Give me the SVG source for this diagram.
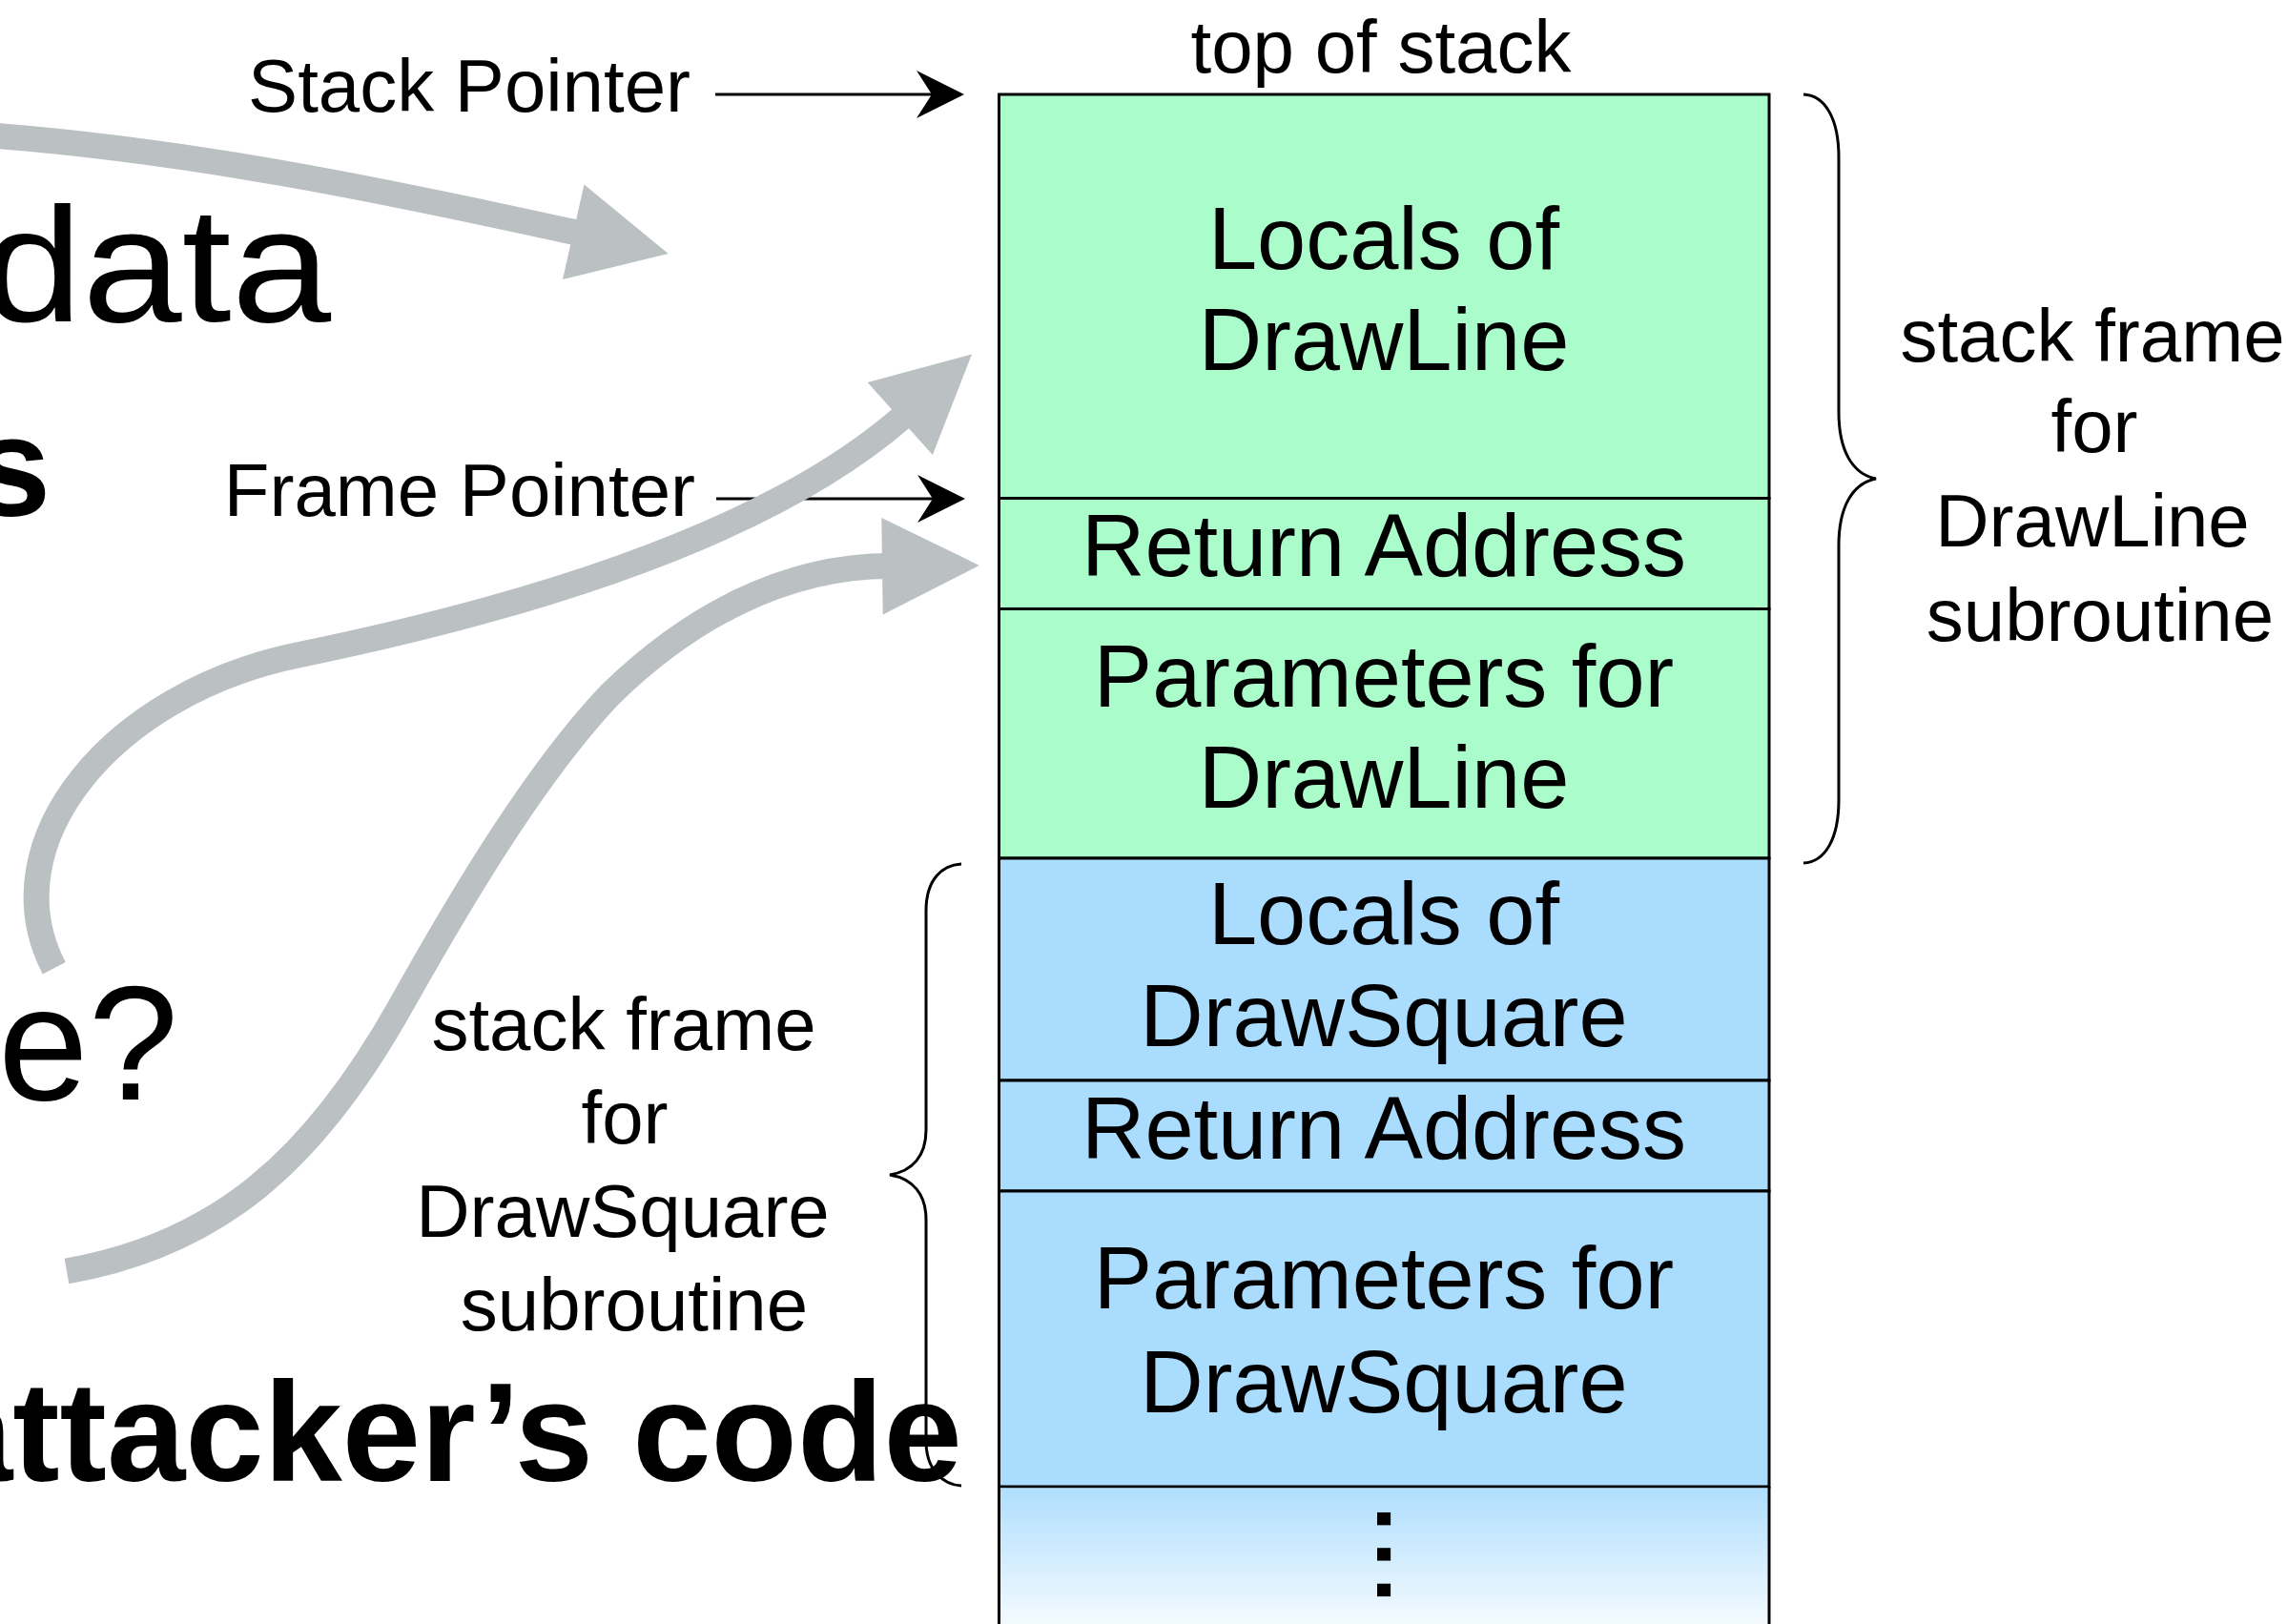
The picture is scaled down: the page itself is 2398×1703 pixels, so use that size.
<svg xmlns="http://www.w3.org/2000/svg" width="2398" height="1703" viewBox="0 0 2398 1703">
<style>
text { font-family: "Liberation Sans", Arial, sans-serif; fill: #000; }
.cell-text { font-size: 92px; text-anchor: middle; }
.side { font-size: 78px; text-anchor: middle; }
.ptr { font-size: 78px; text-anchor: end; }
.bg-reg { font-size: 170px; }
.bg-bold { font-size: 148px; font-weight: bold; }
.cell { stroke: #000; stroke-width: 3; }
.green { fill: #aafdcb; }
.blue { fill: #aadcfd; }
.edge { stroke: #000; stroke-width: 3; }
.brace { fill: none; stroke: #000; stroke-width: 3; }
.ptr-line { stroke: #000; stroke-width: 3; marker-end: url(#ptrhead); }
.gshaft { fill: none; stroke: #bbc0c2; stroke-width: 27; }
.ghead { fill: #bbc0c2; }
.dots { font-size: 95px; font-weight: bold; letter-spacing: 11px; }
</style>
<defs>
<marker id="ptrhead" viewBox="0 0 50 50" refX="16" refY="25" markerWidth="50" markerHeight="50" markerUnits="userSpaceOnUse" orient="auto">
<path d="M0,0 L50,25 L0,50 L16,25 Z" fill="#000"/>
</marker>
<linearGradient id="fade" x1="0" y1="1559" x2="0" y2="1728" gradientUnits="userSpaceOnUse">
<stop offset="0" stop-color="#afdefd"/>
<stop offset="1" stop-color="#ffffff"/>
</linearGradient>
</defs>
<rect width="2398" height="1703" fill="#fff"/>

<g id="background-text">
<text class="bg-reg" x="-18" y="337" textLength="365" lengthAdjust="spacingAndGlyphs">data</text>
<text class="bg-bold" x="-29" y="541">s</text>
<text class="bg-reg" x="-2" y="1153">e?</text>
<text class="bg-bold" x="-69" y="1553">attacker’s code</text>
</g>

<g id="top-of-stack-label"><text class="side" x="1448" y="76">top of stack</text></g>

<g id="drawline-locals">
<rect class="cell green" x="1047.5" y="99" width="807.5" height="423.5"/>
<text class="cell-text" x="1451" y="282">Locals of</text>
<text class="cell-text" x="1451" y="388">DrawLine</text>
</g>
<g id="drawline-return">
<rect class="cell green" x="1047.5" y="522.5" width="807.5" height="116"/>
<text class="cell-text" x="1451" y="604">Return Address</text>
</g>
<g id="drawline-params">
<rect class="cell green" x="1047.5" y="638.5" width="807.5" height="261.5"/>
<text class="cell-text" x="1451" y="741">Parameters for</text>
<text class="cell-text" x="1451" y="847">DrawLine</text>
</g>
<g id="drawsquare-locals">
<rect class="cell blue" x="1047.5" y="900" width="807.5" height="233"/>
<text class="cell-text" x="1451" y="990">Locals of</text>
<text class="cell-text" x="1451" y="1097">DrawSquare</text>
</g>
<g id="drawsquare-return">
<rect class="cell blue" x="1047.5" y="1133" width="807.5" height="116"/>
<text class="cell-text" x="1451" y="1215">Return Address</text>
</g>
<g id="drawsquare-params">
<rect class="cell blue" x="1047.5" y="1249" width="807.5" height="310"/>
<text class="cell-text" x="1451" y="1372">Parameters for</text>
<text class="cell-text" x="1451" y="1481">DrawSquare</text>
</g>
<g id="stack-continues">
<rect x="1047.5" y="1560.5" width="807.5" height="150" fill="url(#fade)"/>
<line class="edge" x1="1047.5" y1="1559" x2="1047.5" y2="1710"/>
<line class="edge" x1="1855" y1="1559" x2="1855" y2="1710"/>
<text class="dots" transform="translate(1443.5,1579.4) rotate(90)" x="0" y="0">...</text>
</g>

<g id="drawline-frame-brace">
<path class="brace" d="M1891,99 C1914,100 1928,125 1928,165 L1928,432 C1928,472 1942,497 1967,502 C1942,507 1928,532 1928,572 L1928,839 C1928,879 1914,904 1891,905"/>
<text class="side" x="2194" y="379">stack frame</text>
<text class="side" x="2196" y="474">for</text>
<text class="side" x="2194" y="573">DrawLine</text>
<text class="side" x="2202" y="672">subroutine</text>
</g>

<g id="drawsquare-frame-brace">
<path class="brace" d="M1008,906 C988,907 971,922 971,955 L971,1185 C971,1212 957,1228 933,1232 C957,1236 971,1252 971,1279 L971,1512 C971,1540 988,1557 1008,1558"/>
<text class="side" x="654" y="1101">stack frame</text>
<text class="side" x="655" y="1199">for</text>
<text class="side" x="653" y="1297">DrawSquare</text>
<text class="side" x="665" y="1395">subroutine</text>
</g>

<g id="stack-pointer"><text class="ptr" x="724" y="117">Stack Pointer</text></g>
<g id="frame-pointer"><text class="ptr" x="729" y="541">Frame Pointer</text></g>

<g id="connectors">
<line class="ptr-line" x1="750" y1="99" x2="977" y2="99"/>
<line class="ptr-line" x1="751" y1="523" x2="978" y2="523"/>
<path class="gshaft" d="M-10,142 C200,158 400,199 609,245"/>
<polygon class="ghead" points="612.5,193.6 700.7,266 590,292.9"/>
<path class="gshaft" d="M56.75,1015.25 C-12,883 118,727 312,687 Q770,593 949,435"/>
<polygon class="ghead" points="909.6,401 1019,371.4 977.9,477"/>
<path class="gshaft" d="M70,1333 C230,1305 330,1215 420,1055 C480,948 560,812 640,728 C720,650 820,593.5 933,593.5"/>
<polygon class="ghead" points="924.3,542.9 1026.8,592.9 925.7,644.6"/>
</g>
</svg>
